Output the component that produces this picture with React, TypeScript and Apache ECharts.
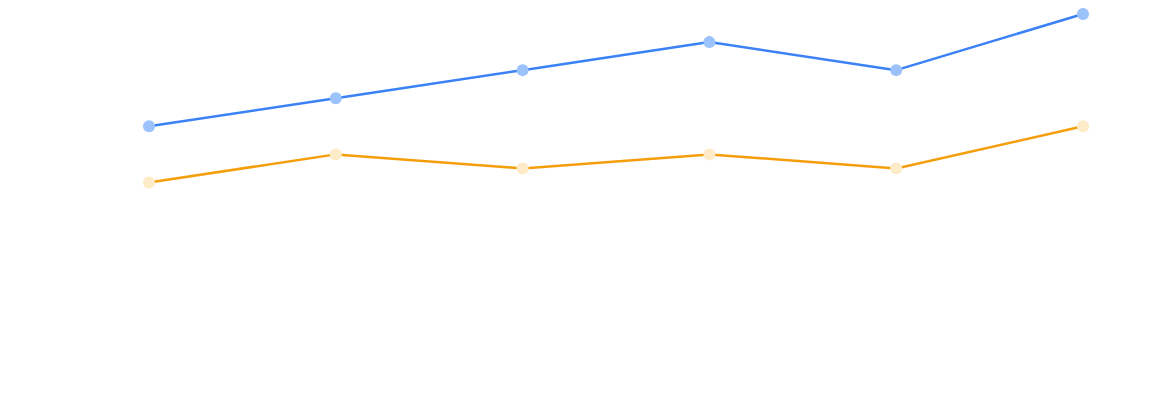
import React, { useEffect, useRef } from "react";
import * as echarts from "echarts";

const categories = ["1", "2", "3", "4", "5", "6"];
const seriesA = [90, 100, 110, 120, 110, 130];
const seriesB = [70, 80, 75, 80, 75, 90];

export default function App() {
  const ref = useRef<HTMLDivElement>(null);
  useEffect(() => {
    if (!ref.current) return;
    const chart = echarts.init(ref.current, undefined, { renderer: "svg" });
    chart.setOption({
      animation: false,
      grid: { left: 141, right: 85, top: 6, bottom: 9 },
      xAxis: {
        type: "category",
        data: categories,
        boundaryGap: false,
        show: false,
      },
      yAxis: { type: "value", min: 0, max: 130, show: false },
      series: [
        {
          type: "line",
          data: seriesA,
          symbol: "circle",
          symbolSize: 12,
          lineStyle: { color: "#3b82f6", width: 2.5 },
          itemStyle: { color: "#9cc2fb", borderWidth: 0 },
        },
        {
          type: "line",
          data: seriesB,
          symbol: "circle",
          symbolSize: 12,
          lineStyle: { color: "#f59e0b", width: 2.5 },
          itemStyle: { color: "#feebc8", borderWidth: 0 },
        },
      ],
    });
    return () => chart.dispose();
  }, []);
  return <div ref={ref} style={{ width: 1160, height: 380 }} />;
}
